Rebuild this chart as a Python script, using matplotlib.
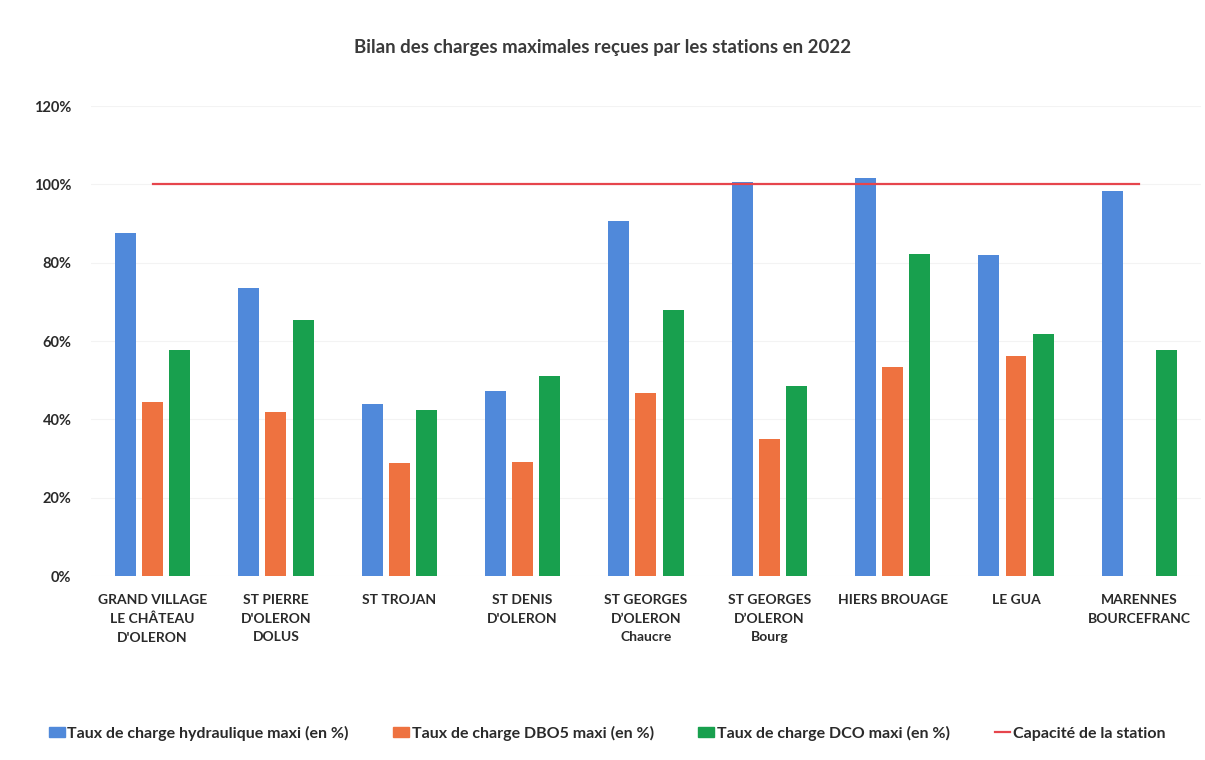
import matplotlib
matplotlib.use("Agg")
import matplotlib.pyplot as plt
import numpy as np
from matplotlib.patches import Patch
from matplotlib.lines import Line2D

plt.rcParams['font.family'] = ['Lato', 'DejaVu Sans']

stations = ["GRAND VILLAGE\nLE CHÂTEAU\nD'OLERON", "ST PIERRE\nD'OLERON\nDOLUS", "ST TROJAN",
            "ST DENIS\nD'OLERON", "ST GEORGES\nD’OLERON\nChaucre", "ST GEORGES\nD’OLERON\nBourg",
            "HIERS BROUAGE", "LE GUA", "MARENNES\nBOURCEFRANC"]
hydraulique = [87.5, 73.5, 44.0, 47.3, 90.6, 100.5, 101.5, 81.9, 98.3]
dbo5 = [44.5, 41.8, 28.8, 29.1, 46.7, 35.0, 53.4, 56.1, np.nan]
dco = [57.8, 65.5, 42.3, 51.1, 68.0, 48.5, 82.3, 61.9, 57.8]
capacite = [100] * 9
yticks = [0, 20, 40, 60, 80, 100, 120]
legend_labels = ["Taux de charge hydraulique maxi (en %)", "Taux de charge DBO5 maxi (en %)",
                 "Taux de charge DCO maxi (en %)", "Capacité de la station"]
title = "Bilan des charges maximales reçues par les stations en 2022"

c_blue = "#5089DA"
c_orange = "#EE7240"
c_green = "#18A04E"
c_red = "#E6454C"
c_text = "#2a2a2a"

fig = plt.figure(figsize=(12.05, 7.6), dpi=100)
ax = fig.add_axes([0.0754, 0.242, 0.9213, 0.6185])

x = np.arange(len(stations))
w = 0.17
step = 0.22
ax.bar(x - step, hydraulique, w, color=c_blue, zorder=2)
ax.bar(x, dbo5, w, color=c_orange, zorder=2)
ax.bar(x + step, dco, w, color=c_green, zorder=2)
ax.plot(x, capacite, color=c_red, lw=1.6, zorder=3)

ax.set_xlim(-0.5, len(stations) - 0.5)
ax.set_ylim(0, 120)
ax.set_yticks(yticks)
ax.set_yticklabels([f"{v}%" for v in yticks])
ax.set_xticks(x)
ax.set_xticklabels(stations, linespacing=1.65, fontweight='bold', fontsize=10, color=c_text, va='top')
for lab in ax.get_yticklabels():
    lab.set_fontweight('bold')
    lab.set_fontsize(10.5)
    lab.set_color(c_text)
ax.tick_params(axis='x', length=0, pad=13)
ax.tick_params(axis='y', length=0, pad=14)
for s in ax.spines.values():
    s.set_visible(False)
ax.grid(axis='y', color="#f3f3f3", lw=0.8, zorder=0)

fig.text(603 / 1205, 1 - 47 / 760, title, ha='center', va='center', fontsize=13.4, fontweight='bold', color="#3a3a3a")

handles = [Patch(color=c_blue), Patch(color=c_orange), Patch(color=c_green),
           Line2D([0], [0], color=c_red, lw=1.6)]
leg = fig.legend(handles, legend_labels, loc='center', bbox_to_anchor=(607 / 1205, 1 - 733 / 760), ncol=4,
                 frameon=False, handlelength=1.0, handleheight=0.55, handletextpad=0.15,
                 columnspacing=2.8, prop={'weight': 'bold', 'size': 11.5})
for t in leg.get_texts():
    t.set_color(c_text)

fig.savefig("out.png", dpi=100, facecolor='white')
